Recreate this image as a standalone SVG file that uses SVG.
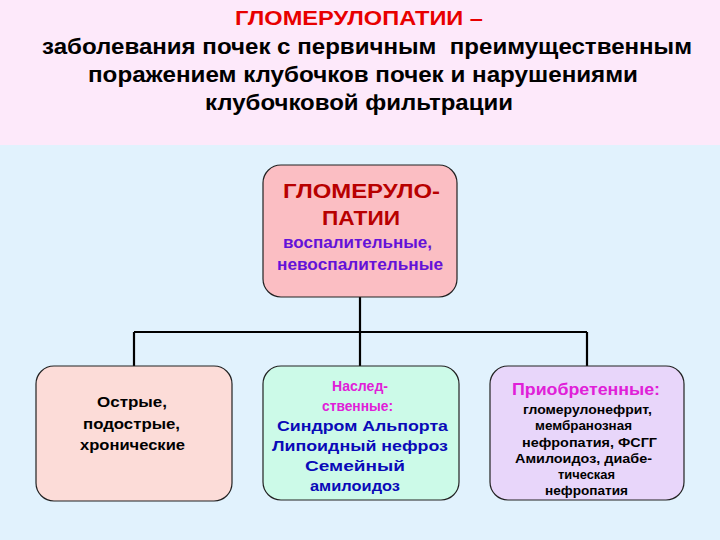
<svg xmlns="http://www.w3.org/2000/svg" width="720" height="540" viewBox="0 0 720 540">
<style>
text{font-family:"Liberation Sans",Arial,sans-serif;font-weight:bold;text-anchor:middle}
.node{stroke:#222;stroke-width:1.2}
.conn{stroke:#000;stroke-width:2.2;fill:none}
.h{font-size:22px;fill:#000}
.mag{fill:#E020D8}
.blue{fill:#0A0AB8}
.pur{fill:#6412D8}
</style>
<rect x="0" y="0" width="720" height="145" fill="#FDE9FA"/>
<rect x="0" y="145" width="720" height="395" fill="#E1F2FD"/>
<g id="header">
<text x="359" y="25" font-size="21" fill="#E80000" textLength="248" lengthAdjust="spacingAndGlyphs">ГЛОМЕРУЛОПАТИИ –</text>
<text class="h" x="367" y="54" textLength="650" lengthAdjust="spacingAndGlyphs" xml:space="preserve">заболевания почек с первичным  преимущественным</text>
<text class="h" x="363" y="82" textLength="550" lengthAdjust="spacingAndGlyphs">поражением клубочков почек и нарушениями</text>
<text class="h" x="359" y="110" textLength="308" lengthAdjust="spacingAndGlyphs">клубочковой фильтрации</text>
</g>
<g id="connectors">
<path class="conn" d="M360 297V366M134 332H587M134 332V366M587 332V366"/>
</g>
<g id="root">
<rect class="node" x="263" y="165" width="194" height="132" rx="18" fill="#FBBEC3"/>
<text x="361.5" y="198" font-size="21" fill="#B80000" textLength="157" lengthAdjust="spacingAndGlyphs">ГЛОМЕРУЛО-</text>
<text x="361" y="225" font-size="21" fill="#B80000" textLength="78" lengthAdjust="spacingAndGlyphs">ПАТИИ</text>
<text x="357.5" y="248" font-size="16" class="pur" textLength="149" lengthAdjust="spacingAndGlyphs">воспалительные,</text>
<text x="360" y="270" font-size="16" class="pur" textLength="166" lengthAdjust="spacingAndGlyphs">невоспалительные</text>
</g>
<g id="types">
<rect class="node" x="36" y="366" width="196" height="135" rx="18" fill="#FCDCD8"/>
<text x="132" y="407" font-size="15" textLength="70" lengthAdjust="spacingAndGlyphs">Острые,</text>
<text x="131.5" y="429" font-size="15" textLength="97" lengthAdjust="spacingAndGlyphs">подострые,</text>
<text x="132.5" y="450" font-size="15" textLength="105" lengthAdjust="spacingAndGlyphs">хронические</text>
</g>
<g id="hereditary">
<rect class="node" x="263" y="366" width="196" height="134" rx="18" fill="#CCFAE8"/>
<text x="360" y="391" font-size="15" class="mag" textLength="56" lengthAdjust="spacingAndGlyphs">Наслед-</text>
<text x="357.5" y="411" font-size="15" class="mag" textLength="71" lengthAdjust="spacingAndGlyphs">ственные:</text>
<text x="362.5" y="431" font-size="15.5" class="blue" textLength="171" lengthAdjust="spacingAndGlyphs">Синдром Альпорта</text>
<text x="360" y="451" font-size="15.5" class="blue" textLength="176" lengthAdjust="spacingAndGlyphs">Липоидный нефроз</text>
<text x="355" y="471" font-size="15.5" class="blue" textLength="100" lengthAdjust="spacingAndGlyphs">Семейный</text>
<text x="355" y="491" font-size="15.5" class="blue" textLength="90" lengthAdjust="spacingAndGlyphs">амилоидоз</text>
</g>
<g id="acquired">
<rect class="node" x="490" y="366" width="194" height="134" rx="18" fill="#E8D6FA"/>
<text x="586" y="395" font-size="16" class="mag" textLength="148" lengthAdjust="spacingAndGlyphs">Приобретенные:</text>
<text x="587.5" y="414" font-size="12.5" textLength="129" lengthAdjust="spacingAndGlyphs">гломерулонефрит,</text>
<text x="583.5" y="430" font-size="12.5" textLength="97" lengthAdjust="spacingAndGlyphs">мембранозная</text>
<text x="589.5" y="447" font-size="12.5" textLength="135" lengthAdjust="spacingAndGlyphs">нефропатия, ФСГГ</text>
<text x="583.5" y="463" font-size="12.5" textLength="137" lengthAdjust="spacingAndGlyphs">Амилоидоз, диабе-</text>
<text x="586.5" y="479" font-size="12.5" textLength="57" lengthAdjust="spacingAndGlyphs">тическая</text>
<text x="586.5" y="495" font-size="12.5" textLength="83" lengthAdjust="spacingAndGlyphs">нефропатия</text>
</g>
</svg>
